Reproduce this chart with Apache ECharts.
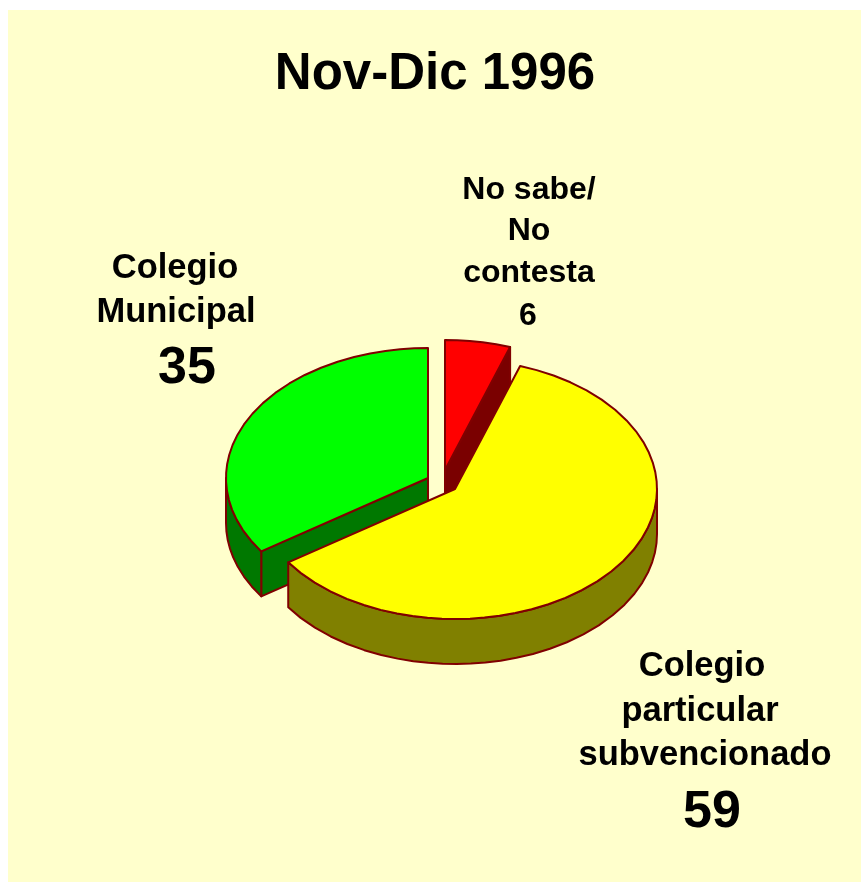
<!DOCTYPE html>
<html>
<head>
<meta charset="utf-8">
<title>Nov-Dic 1996</title>
<script src="https://cdn.jsdelivr.net/npm/echarts@6/dist/echarts.min.js"></script>
<style>
html, body { margin: 0; padding: 0; background: #fff; }
#chart { width: 861px; height: 884px; }
</style>
</head>
<body>
<div id="chart"></div>
<script>
const categories = ['No sabe/No contesta', 'Colegio particular subvencionado', 'Colegio Municipal']
const values = [6, 59, 35]

const topColors = ['#ff0000', '#ffff00', '#00ff00']
const wallColors = ['#7a0000', '#808000', '#007800']
const lineColor = '#800000'

// each slice is pulled out from the pie centre by its own offset
const pieCenter = [442, 478]
const explode = [[3, -8], [13, 11], [-14, 0]]
const sliceZ = [2, 3, 1] // yellow on top of the other walls
const radiusX = 202
const radiusY = 130
const depth = 45

const total = values.reduce((a, b) => a + b, 0)
const rad = d => d * Math.PI / 180

// angle in degrees clockwise from 12 o'clock -> point on the tilted ellipse.
// the 3D projection of the original bends angles a little, hence the small warp
const rimPoint = (c, deg, dy = 0) => {
  const a = rad(deg - 2.8 * Math.sin(rad(4 * deg)))
  return [c[0] + radiusX * Math.sin(a), c[1] - radiusY * Math.cos(a) + dy]
}

const arc = (c, from, to, dy = 0) => {
  const n = Math.max(2, Math.ceil(Math.abs(to - from) / 5))
  const pts = []
  for (let i = 0; i <= n; i++) pts.push(rimPoint(c, from + (to - from) * i / n, dy))
  return pts
}

const poly = (points, fill, z2) => ({
  type: 'polygon',
  z2,
  shape: { points },
  style: { fill, stroke: lineColor, lineWidth: 2, lineJoin: 'round' }
})

const renderSlice = (params, api) => {
  const i = params.dataIndex
  let start = 0
  for (let k = 0; k < i; k++) start += values[k] / total * 360
  const end = start + api.value(0) / total * 360
  const c = [pieCenter[0] + explode[i][0], pieCenter[1] + explode[i][1]]
  const z = sliceZ[i] * 10
  const children = []

  // radial wall on the clockwise end, only when it faces the viewer
  const endPt = rimPoint(c, end)
  if (end < 180) {
    children.push(poly([c, endPt, [endPt[0], endPt[1] + depth], [c[0], c[1] + depth]], wallColors[i], z))
  }
  // radial wall on the start side, same test
  const startPt = rimPoint(c, start)
  if (start > 180) {
    children.push(poly([c, startPt, [startPt[0], startPt[1] + depth], [c[0], c[1] + depth]], wallColors[i], z))
  }
  // outer wall: the part of the rim in the front half (90..270 deg)
  const wallFrom = Math.max(start, 90)
  const wallTo = Math.min(end, 270)
  if (wallTo > wallFrom) {
    const rim = arc(c, wallFrom, wallTo)
    const lower = arc(c, wallFrom, wallTo, depth).reverse()
    children.push(poly(rim.concat(lower), wallColors[i], z + 1))
  }
  children.push(poly([c].concat(arc(c, start, end)), topColors[i], z + 2))
  return { type: 'group', children }
}

// label lines: text, centre x, centre y, size
const labelLines = [
  ['No sabe/', 529, 190, 32], ['No', 529, 231, 32], ['contesta', 529, 273, 32], ['6', 528, 316, 32],
  ['Colegio', 175, 268, 34.5], ['Municipal', 176, 312, 34.5], ['35', 187, 369, 52],
  ['Colegio', 702, 666, 34.5], ['particular', 700, 711, 34.5], ['subvencionado', 705, 755, 34.5], ['59', 712, 813, 52]
]

const textEl = (text, x, y, size) => ({
  type: 'text',
  x, y,
  style: {
    text, fill: '#000',
    font: `bold ${size}px "Liberation Sans", Arial, sans-serif`,
    textAlign: 'center', textVerticalAlign: 'middle'
  }
})

const chart = echarts.init(document.getElementById('chart'), null, { renderer: 'canvas' })
chart.setOption({
  animation: false,
  backgroundColor: '#ffffff',
  graphic: [
    { type: 'rect', z: -10, shape: { x: 8, y: 10, width: 853, height: 872 }, style: { fill: '#ffffcc' } },
    textEl('Nov-Dic 1996', 435, 75, 51),
    ...labelLines.map(l => textEl(l[0], l[1], l[2], l[3]))
  ],
  series: [{
    type: 'custom',
    coordinateSystem: 'none',
    renderItem: renderSlice,
    silent: true,
    data: values.map((v, i) => ({ name: categories[i], value: [v] })),
    encode: { value: 0 }
  }]
})
</script>
</body>
</html>
